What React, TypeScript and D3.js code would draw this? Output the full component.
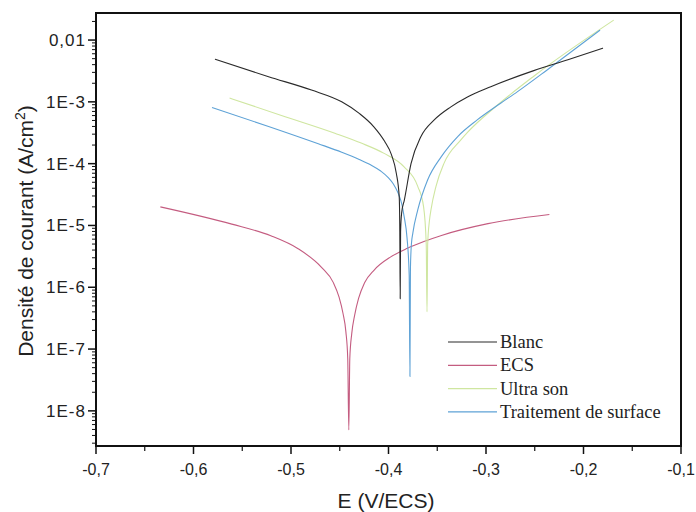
import React from "react";
import * as d3 from "d3";

const xTicks = [-0.7, -0.6, -0.5, -0.4, -0.3, -0.2, -0.1];
const xTickLabels = ["-0,7", "-0,6", "-0,5", "-0,4", "-0,3", "-0,2", "-0,1"];
const yTicks = [1e-8, 1e-7, 1e-6, 1e-5, 1e-4, 1e-3, 1e-2];
const yTickLabels = ["1E-8", "1E-7", "1E-6", "1E-5", "1E-4", "1E-3", "0,01"];

const blanc: [number, number][] = [
  [-0.578, 4.9e-3], [-0.523, 2.55e-3], [-0.479, 1.55e-3], [-0.448, 1.0e-3],
  [-0.43, 6.5e-4], [-0.415, 3.95e-4], [-0.404, 2.3e-4], [-0.397, 1.4e-4],
  [-0.392, 7e-5], [-0.389, 2.9e-5], [-0.3884, 8e-6], [-0.388, 6.5e-7],
  [-0.3876, 8e-6], [-0.3865, 1.6e-5], [-0.3837, 2.6e-5], [-0.3769, 1.0e-4],
  [-0.3667, 2.75e-4], [-0.3531, 5.1e-4], [-0.336, 8.3e-4], [-0.319, 1.2e-3],
  [-0.2951, 1.76e-3], [-0.251, 3.2e-3], [-0.216, 4.8e-3], [-0.18, 7.4e-3],
];

const ecs: [number, number][] = [
  [-0.634, 2.0e-5], [-0.5607, 1.05e-5], [-0.5207, 6.8e-6], [-0.4927, 4.2e-6],
  [-0.4687, 2.1e-6], [-0.4567, 1.2e-6], [-0.4507, 6.9e-7], [-0.4467, 3.8e-7],
  [-0.4437, 1.9e-7], [-0.4418, 7e-8], [-0.4407, 4.9e-9], [-0.4397, 7e-8],
  [-0.4377, 1.78e-7], [-0.4347, 3.55e-7], [-0.4307, 6.6e-7], [-0.4247, 1.17e-6],
  [-0.4147, 1.9e-6], [-0.3977, 3.1e-6], [-0.3807, 4.27e-6], [-0.3637, 5.5e-6],
  [-0.3457, 6.9e-6], [-0.298, 1.07e-5], [-0.235, 1.5e-5],
];

const ultraSon: [number, number][] = [
  [-0.563, 1.15e-3], [-0.506, 5.75e-4], [-0.455, 3.1e-4], [-0.428, 2.15e-4],
  [-0.405, 1.48e-4], [-0.384, 8.9e-5], [-0.37, 4.3e-5], [-0.364, 2.0e-5],
  [-0.3613, 5e-6], [-0.3605, 4e-7], [-0.3598, 5e-6], [-0.358, 1.2e-5],
  [-0.3564, 1.8e-5], [-0.3513, 4.3e-5], [-0.343, 1.02e-4], [-0.326, 2.4e-4],
  [-0.319, 3.2e-4], [-0.29, 8.4e-4], [-0.251, 2.6e-3], [-0.169, 2.1e-2],
];

const traitement: [number, number][] = [
  [-0.581, 8.1e-4], [-0.523, 4.0e-4], [-0.472, 2.1e-4], [-0.448, 1.53e-4],
  [-0.43, 1.17e-4], [-0.418, 9.5e-5], [-0.408, 7.6e-5], [-0.4, 5.9e-5],
  [-0.395, 4.7e-5], [-0.39, 3.3e-5], [-0.386, 2.1e-5], [-0.384, 1.4e-5],
  [-0.381, 6.3e-6], [-0.3788, 1.6e-6], [-0.378, 3.6e-8], [-0.3775, 2e-6],
  [-0.3765, 5e-6], [-0.375, 7.6e-6], [-0.37, 1.78e-5], [-0.36, 5.4e-5],
  [-0.346, 1.29e-4], [-0.329, 2.75e-4], [-0.309, 5.1e-4], [-0.285, 9.5e-4],
  [-0.268, 1.45e-3], [-0.234, 3.6e-3], [-0.183, 1.45e-2],
];

const seriesNames = ["Blanc", "ECS", "Ultra son", "Traitement de surface"];
const seriesColors = ["#2a2a2a", "#c45c80", "#cfe6a0", "#5ea2d6"];
const seriesData = [blanc, ecs, ultraSon, traitement];

const W = 696;
const H = 512;
const left = 96;
const right = 681;
const top = 13;
const bottom = 446;

export default function App() {
  const x = d3.scaleLinear().domain([-0.7, -0.1]).range([left, right]);
  const y = d3.scaleLog().domain([2.7e-9, 0.0274]).range([bottom, top]);

  const line = d3
    .line<[number, number]>()
    .x((d) => x(d[0]))
    .y((d) => y(d[1]))
    .curve(d3.curveMonotoneX);

  const minorY: number[] = [];
  for (let e = -9; e <= -2; e++) {
    for (let m = 2; m <= 9; m++) {
      const v = m * Math.pow(10, e);
      if (v >= 2.7e-9 && v <= 0.0274) minorY.push(v);
    }
  }
  const minorX: number[] = [];
  for (let i = 0; i < 6; i++) minorX.push(-0.65 + i * 0.1);

  const sans = "'Liberation Sans', Arial, sans-serif";
  const serif = "'Liberation Serif', 'Times New Roman', serif";

  return (
    <svg width={W} height={H} style={{ display: "block", position: "absolute", left: 0, top: 0, background: "#fff" }}>
      <rect x={0} y={0} width={W} height={H} fill="#fff" />
      {[1, 2, 3, 0].map((i) => (
        <path
          key={seriesNames[i]}
          d={line(seriesData[i]) || ""}
          fill="none"
          stroke={seriesColors[i]}
          strokeWidth={1.1}
        />
      ))}
      <rect x={left} y={top} width={right - left} height={bottom - top} fill="none" stroke="#111" strokeWidth={2} />
      {yTicks.map((t, i) => (
        <g key={"yt" + i}>
          <line x1={left - 8} x2={left} y1={y(t)} y2={y(t)} stroke="#111" strokeWidth={1.5} />
          <text
            x={left - 10}
            y={y(t) + 6}
            textAnchor="end"
            fontFamily={sans}
            fontSize={17}
            letterSpacing={1}
            fill="#222"
          >
            {yTickLabels[i]}
          </text>
        </g>
      ))}
      {minorY.map((t, i) => (
        <line key={"ym" + i} x1={left - 4} x2={left} y1={y(t)} y2={y(t)} stroke="#111" strokeWidth={1} />
      ))}
      {xTicks.map((t, i) => (
        <g key={"xt" + i}>
          <line x1={x(t)} x2={x(t)} y1={bottom} y2={bottom + 8} stroke="#111" strokeWidth={1.5} />
          <text x={x(t)} y={475} textAnchor="middle" fontFamily={sans} fontSize={16} fill="#222">
            {xTickLabels[i]}
          </text>
        </g>
      ))}
      {minorX.map((t, i) => (
        <line key={"xm" + i} x1={x(t)} x2={x(t)} y1={bottom} y2={bottom + 5} stroke="#111" strokeWidth={1.2} />
      ))}
      <text x={386} y={508} textAnchor="middle" fontFamily={sans} fontSize={21} fill="#222">
        E (V/ECS)
      </text>
      <text
        transform={`translate(33, 231) rotate(-90)`}
        textAnchor="middle"
        fontFamily={sans}
        fontSize={21}
        fill="#222"
      >
        Densité de courant (A/cm<tspan dy={-8} fontSize={14}>2</tspan><tspan dy={8}>)</tspan>
      </text>
      {seriesNames.map((n, i) => {
        const ly = 342 + i * 23.3;
        return (
          <g key={"lg" + i}>
            <line x1={448} x2={497} y1={ly} y2={ly} stroke={seriesColors[i]} strokeWidth={1.2} />
            <text x={500} y={ly + 6} fontFamily={serif} fontSize={18.5} fill="#222">
              {n}
            </text>
          </g>
        );
      })}
    </svg>
  );
}
